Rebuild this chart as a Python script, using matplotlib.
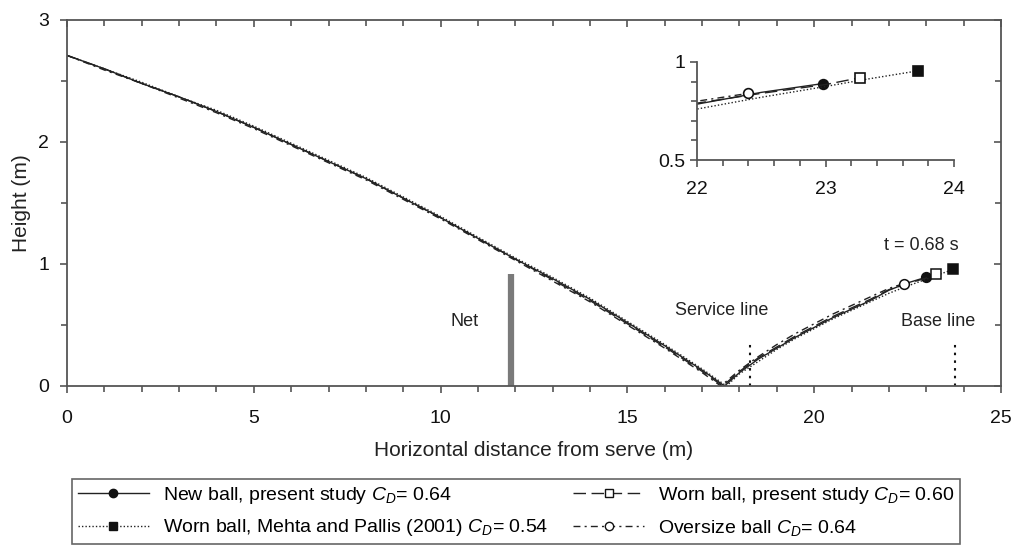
import matplotlib
matplotlib.use('Agg')
import matplotlib.pyplot as plt
from matplotlib.ticker import MultipleLocator, FuncFormatter

plt.rcParams['font.family'] = ['Liberation Sans', 'DejaVu Sans']
plt.rcParams['mathtext.fontset'] = 'custom'
plt.rcParams['mathtext.rm'] = 'Liberation Sans'
plt.rcParams['mathtext.it'] = 'Liberation Sans:italic'

# trajectories (x = distance from serve, y = height, both in m)
new_x = [0, 1, 2, 3, 4, 5, 6, 7, 8, 9, 10, 11, 12, 13, 14, 15, 16, 17, 17.6,
         18.0, 18.5, 19.0, 19.5, 20.0, 20.5, 21.0, 21.5, 22.0, 22.5, 22.98]
new_y = [2.71, 2.60, 2.48, 2.37, 2.25, 2.12, 1.98, 1.84, 1.70, 1.54, 1.38, 1.21, 1.04, 0.88, 0.71, 0.52, 0.33, 0.13, 0.0,
         0.11, 0.22, 0.31, 0.40, 0.48, 0.56, 0.63, 0.70, 0.785, 0.845, 0.89]

worn_x = [0, 1, 2, 3, 4, 5, 6, 7, 8, 9, 10, 11, 12, 13, 14, 15, 16, 17, 17.55,
          18.0, 18.5, 19.0, 19.5, 20.0, 20.5, 21.0, 21.5, 22.0, 22.5, 23.0, 23.27]
worn_y = [2.71, 2.60, 2.48, 2.37, 2.25, 2.12, 1.98, 1.84, 1.70, 1.54, 1.38, 1.21, 1.04, 0.87, 0.70, 0.51, 0.32, 0.12, 0.0,
          0.12, 0.23, 0.32, 0.41, 0.49, 0.57, 0.64, 0.71, 0.79, 0.84, 0.885, 0.92]

mehta_x = [0, 1, 2, 3, 4, 5, 6, 7, 8, 9, 10, 11, 12, 13, 14, 15, 16, 17, 17.65,
           18.0, 18.5, 19.0, 19.5, 20.0, 20.5, 21.0, 21.5, 22.0, 22.5, 23.0, 23.3, 23.72]
mehta_y = [2.71, 2.60, 2.49, 2.37, 2.26, 2.13, 1.99, 1.85, 1.71, 1.55, 1.39, 1.22, 1.05, 0.89, 0.72, 0.53, 0.34, 0.14, 0.0,
           0.10, 0.20, 0.30, 0.39, 0.47, 0.55, 0.62, 0.69, 0.76, 0.82, 0.875, 0.91, 0.955]

over_x = [0, 1, 2, 3, 4, 5, 6, 7, 8, 9, 10, 11, 12, 13, 14, 15, 16, 17, 17.5,
          18.0, 18.5, 19.0, 19.5, 20.0, 20.5, 21.0, 21.5, 22.0, 22.4]
over_y = [2.71, 2.59, 2.48, 2.36, 2.24, 2.11, 1.97, 1.83, 1.69, 1.53, 1.37, 1.20, 1.03, 0.86, 0.69, 0.50, 0.31, 0.11, 0.0,
          0.13, 0.24, 0.34, 0.43, 0.51, 0.59, 0.66, 0.73, 0.80, 0.84]

net_x = 11.885
net_h = 0.914
service_x = 18.29
base_x = 23.77
court_mark_h = 0.38

series = [
    # x, y, label, linestyle, marker, filled
    (new_x, new_y, r'New ball, present study $C_D$= 0.64', '-', 'o', True),
    (mehta_x, mehta_y, r'Worn ball, Mehta and Pallis (2001) $C_D$= 0.54', (0, (1, 1.5)), 's', True),
    (worn_x, worn_y, r'Worn ball, present study $C_D$= 0.60', (0, (9, 4)), 's', False),
    (over_x, over_y, r'Oversize ball $C_D$= 0.64', (0, (5, 3, 1.5, 3)), 'o', False),
]

W, H = 1017, 546
fig = plt.figure(figsize=(W / 100, H / 100), dpi=100)
ax = fig.add_axes([67 / W, 1 - 386 / H, (1001 - 67) / W, (386 - 20) / H])
axin = fig.add_axes([697 / W, 1 - 160 / H, (954 - 697) / W, (160 - 62) / H])

spine_col = '#555555'
handles = []
for xs, ys, lab, ls, mk, filled in series:
    fc = '#111111' if filled else 'white'
    ax.plot(xs, ys, color='#222222', lw=1.0, ls=ls)
    ax.plot(xs[-1], ys[-1], marker=mk, ms=7, mfc=fc, mec='#111111', mew=1.1, ls='none')
    axin.plot(xs, ys, color='#222222', lw=1.0, ls=ls)
    axin.plot(xs[-1], ys[-1], marker=mk, ms=7, mfc=fc, mec='#111111', mew=1.2, ls='none')
    h, = ax.plot([], [], color='#222222', lw=1.0, ls=ls, marker=mk, ms=6,
                 mfc=fc, mec='#111111', mew=1.0, label=lab)
    handles.append(h)

# net and court lines
ax.plot([net_x, net_x], [0, net_h], color='#7a7a7a', lw=4.5, solid_capstyle='butt')
ax.plot([service_x, service_x], [0, court_mark_h], color='#111111', lw=1.5, ls=(0, (1.2, 2.5)))
ax.plot([base_x, base_x], [0, court_mark_h], color='#111111', lw=1.5, ls=(0, (1.2, 2.5)))

ax.text(10.64, 0.53, 'Net', fontsize=13, ha='center', va='center', color='#222222')
ax.text(17.53, 0.62, 'Service line', fontsize=13, ha='center', va='center', color='#222222')
ax.text(23.32, 0.53, 'Base line', fontsize=13, ha='center', va='center', color='#222222')
ax.text(22.87, 1.15, 't = 0.68 s', fontsize=13, ha='center', va='center', color='#222222')

ax.set_xlim(0, 25)
ax.set_ylim(0, 3)
ax.xaxis.set_major_locator(MultipleLocator(5))
ax.xaxis.set_minor_locator(MultipleLocator(1))
ax.yaxis.set_major_locator(MultipleLocator(1))
ax.yaxis.set_minor_locator(MultipleLocator(0.5))
ax.tick_params(which='both', direction='out', colors=spine_col, labelcolor='#111111',
               labelsize=14, width=1.2)
ax.tick_params(which='major', length=5)
ax.tick_params(which='minor', length=4)
ax.tick_params(axis='x', which='major', pad=12)
ax.tick_params(axis='y', which='major', pad=8)
ax.set_xlabel('Horizontal distance from serve (m)', fontsize=15, color='#222222', labelpad=10)
ax.set_ylabel('Height (m)', fontsize=15, color='#222222', labelpad=5)
for s in ax.spines.values():
    s.set_color(spine_col)
    s.set_linewidth(1.3)

# inward ticks on top and right
top = ax.secondary_xaxis('top')
top.xaxis.set_major_locator(MultipleLocator(5))
top.xaxis.set_minor_locator(MultipleLocator(1))
top.tick_params(which='both', direction='in', labeltop=False, colors=spine_col, width=1.2)
top.tick_params(which='major', length=5)
top.tick_params(which='minor', length=4)
top.spines['top'].set_visible(False)
right = ax.secondary_yaxis('right')
right.yaxis.set_major_locator(MultipleLocator(1))
right.yaxis.set_minor_locator(MultipleLocator(0.5))
right.tick_params(which='both', direction='in', labelright=False, colors=spine_col, width=1.2)
right.tick_params(which='major', length=5)
right.tick_params(which='minor', length=4)
right.spines['right'].set_visible(False)

# inset
axin.set_xlim(22, 24)
axin.set_ylim(0.5, 1.0)
axin.xaxis.set_major_locator(MultipleLocator(1))
axin.xaxis.set_minor_locator(MultipleLocator(0.2))
axin.yaxis.set_major_locator(MultipleLocator(0.5))
axin.yaxis.set_minor_locator(MultipleLocator(0.1))
axin.yaxis.set_major_formatter(FuncFormatter(lambda v, p: f'{v:g}'))
axin.tick_params(which='both', direction='out', colors=spine_col, labelcolor='#111111',
                 labelsize=14, width=1.2)
axin.tick_params(which='major', length=5)
axin.tick_params(which='minor', length=4)
axin.tick_params(axis='x', which='major', pad=10)
axin.spines['top'].set_visible(False)
axin.spines['right'].set_visible(False)
for s in ['left', 'bottom']:
    axin.spines[s].set_color(spine_col)
    axin.spines[s].set_linewidth(1.3)
axin.patch.set_alpha(0)

leg = fig.legend(handles=handles, ncol=2, loc='upper left',
                 bbox_to_anchor=(72 / W, 1 - 479 / H), fontsize=14,
                 handlelength=3.65, handletextpad=0.72, columnspacing=1.3,
                 labelspacing=0.6, borderpad=0.3, borderaxespad=0, fancybox=False,
                 framealpha=1, edgecolor='#666666', numpoints=1)
leg.get_frame().set_linewidth(1.2)

fig.savefig('out.png', dpi=100)
